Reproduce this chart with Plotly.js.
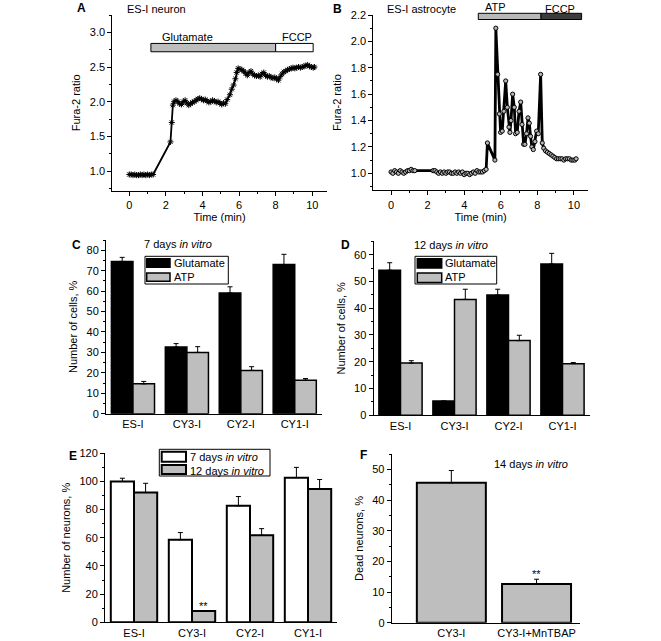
<!DOCTYPE html>
<html><head><meta charset="utf-8">
<script src="https://cdn.plot.ly/plotly-3.0.1.min.js"></script>
<style>body{margin:0;background:#fff}#chart{width:661px;height:641px}</style>
</head><body><div id="chart"></div>
<script>
// ---------- DATA ----------
const timeA = [0,0.1,0.2,0.3,0.4,0.5,0.6,0.7,0.8,0.9,1.0,1.1,1.2,1.3,
  2.25,2.32,2.38,2.45,2.55,2.65,2.75,2.85,2.95,3.05,3.15,3.25,3.35,3.45,3.55,3.65,3.75,3.85,3.95,
  4.05,4.15,4.25,4.35,4.45,4.55,4.65,4.75,4.85,4.95,5.05,5.15,5.25,5.35,5.5,5.6,5.7,5.8,5.87,5.95,
  6.05,6.15,6.25,6.35,6.45,6.55,6.65,6.75,6.85,6.95,7.05,7.15,7.25,7.35,7.45,7.55,7.65,7.75,7.85,7.95,
  8.05,8.15,8.25,8.35,8.45,8.55,8.65,8.75,8.85,8.95,9.05,9.15,9.25,9.35,9.45,9.55,9.65,9.75,9.85,9.95,10.05,10.12];
const ratioA = [0.95,0.95,0.94,0.95,0.94,0.94,0.95,0.94,0.95,0.94,0.95,0.94,0.95,0.95,
  1.42,1.70,1.95,2.00,2.02,2.00,1.97,1.96,2.00,2.02,1.98,1.95,1.97,1.99,2.00,2.02,2.04,2.05,2.04,
  2.02,2.03,2.01,1.99,2.00,2.02,2.01,1.99,2.00,1.98,1.96,1.98,1.97,2.03,2.10,2.18,2.24,2.33,2.42,2.48,
  2.47,2.46,2.44,2.41,2.38,2.42,2.44,2.40,2.38,2.37,2.38,2.36,2.40,2.42,2.38,2.36,2.37,2.35,2.34,2.35,
  2.33,2.31,2.36,2.40,2.43,2.44,2.46,2.47,2.48,2.49,2.48,2.49,2.50,2.49,2.50,2.51,2.52,2.53,2.51,2.50,2.49,2.50];
const timeB = [0,0.1,0.2,0.3,0.4,0.5,0.6,0.7,0.8,0.9,1.0,1.1,1.2,1.3,
  2.3,2.4,2.5,2.6,2.7,2.8,2.9,3.0,3.1,3.2,3.3,3.4,3.5,3.6,3.7,3.8,3.9,4.0,4.1,4.2,4.3,4.4,4.5,4.6,4.7,4.8,4.9,5.0,5.1,5.2,
  5.27,5.68,5.73,5.83,5.92,5.99,6.08,6.17,6.27,6.36,6.45,6.5,6.56,6.65,6.74,6.81,6.9,7.0,7.09,7.16,
  7.25,7.32,7.41,7.49,7.56,7.63,7.7,7.78,7.87,7.96,8.05,8.18,8.27,8.35,8.45,8.55,8.65,8.75,8.85,8.95,
  9.05,9.15,9.25,9.35,9.45,9.55,9.65,9.75,9.85,9.95,10.05,10.12];
const ratioB = [1.01,1.0,1.02,1.01,1.0,1.02,1.01,1.0,1.01,1.02,1.02,1.03,1.02,1.02,
  1.02,1.02,1.01,1.0,1.01,1.0,1.01,1.0,1.01,1.01,1.0,1.0,1.01,1.0,1.01,1.0,1.01,0.99,1.0,1.0,0.99,1.0,1.01,1.0,1.02,1.01,1.01,1.01,1.02,1.03,
  1.23,1.1,2.1,1.75,1.45,1.31,1.32,1.47,1.7,1.5,1.35,1.31,1.4,1.6,1.5,1.3,1.31,1.47,1.54,1.37,
  1.22,1.22,1.3,1.42,1.38,1.28,1.2,1.18,1.24,1.32,1.3,1.75,1.23,1.19,1.17,1.16,1.15,1.14,1.13,1.12,
  1.11,1.11,1.11,1.11,1.1,1.11,1.11,1.11,1.1,1.1,1.1,1.11];
const gluPeriodA = [1.18, 8.0];
const fccpPeriodA = [8.0, 10.05];
const atpPeriodB = [4.77, 8.2];
const fccpPeriodB = [8.2, 10.42];

const cellLines = ['ES-I','CY3-I','CY2-I','CY1-I'];
const glu7 = [74.5,32.6,59.1,73.0];   const glu7Err = [2.0,1.7,3.0,5.0];
const atp7 = [14.6,30.0,21.2,16.4];   const atp7Err = [1.2,2.8,1.8,0.8];
const glu12 = [54.2,5.3,44.9,56.5];   const glu12Err = [2.8,0,2.2,4.0];
const atp12 = [19.5,43.3,27.9,19.3];  const atp12Err = [0.9,3.8,2.0,0.4];
const neur7 = [100,58.7,82.7,102.7];  const neur7Err = [2.3,5.0,6.6,7.3];
const neur12 = [92.1,8.1,61.8,94.6];  const neur12Err = [6.6,0,4.7,6.8];
const deadCats = ['CY3-I','CY3-I+MnTBAP'];
const dead = [45.7,12.6];             const deadErr = [4.0,1.6];

// ---------- STYLE / LAYOUT ----------
const W = 661, H = 641;
const FONT = 'Liberation Sans, Arial, Helvetica, sans-serif';
const GRAY = '#bebebe';
const X = p => p / W, Y = p => 1 - p / H;
const zeros = a => a.map(() => 0);
const err = (a) => ({type:'data', array:a, arrayminus:zeros(a), symmetric:false, color:'#000', thickness:1, width:2.5});
const barLine = {color:'#000', width:1.5};

const traces = [
  {x: timeA, y: ratioA, xaxis:'x', yaxis:'y', type:'scatter', mode:'lines+markers',
   line:{color:'#000', width:1.8}, marker:{symbol:'asterisk-open', size:5, color:'#000', line:{color:'#000', width:1}}, showlegend:false},
  {x: timeB, y: ratioB, xaxis:'x2', yaxis:'y2', type:'scatter', mode:'lines+markers',
   line:{color:'#000', width:2.8}, marker:{symbol:'circle', size:4.2, color:'#b5b5b5', line:{color:'#000', width:1}}, showlegend:false},
  {x: cellLines, y: glu7, xaxis:'x3', yaxis:'y3', type:'bar', marker:{color:'#000', line:barLine}, error_y:err(glu7Err), showlegend:false},
  {x: cellLines, y: atp7, xaxis:'x3', yaxis:'y3', type:'bar', marker:{color:GRAY, line:barLine}, error_y:err(atp7Err), showlegend:false},
  {x: cellLines, y: glu12, xaxis:'x4', yaxis:'y4', type:'bar', marker:{color:'#000', line:barLine}, error_y:err(glu12Err), showlegend:false},
  {x: cellLines, y: atp12, xaxis:'x4', yaxis:'y4', type:'bar', marker:{color:GRAY, line:barLine}, error_y:err(atp12Err), showlegend:false},
  {x: cellLines, y: neur7, xaxis:'x5', yaxis:'y5', type:'bar', marker:{color:'#fff', line:{color:'#000', width:2}}, error_y:err(neur7Err), showlegend:false},
  {x: cellLines, y: neur12, xaxis:'x5', yaxis:'y5', type:'bar', marker:{color:GRAY, line:{color:'#000', width:2}}, error_y:err(neur12Err), showlegend:false},
  {x: deadCats, y: dead, xaxis:'x6', yaxis:'y6', type:'bar', width:0.81, marker:{color:GRAY, line:{color:'#000', width:2}}, error_y:err(deadErr), showlegend:false}
];

const tickFont = {family:FONT, size:11, color:'#000'};
const baseAx = {showline:true, linecolor:'#000', linewidth:1, ticks:'outside', ticklen:4, tickwidth:1, tickcolor:'#000',
  showgrid:false, zeroline:false, tickfont:tickFont, automargin:false};
const titleF = (t, s) => ({text:t, font:{family:FONT, size:11, color:'#000'}, standoff:s});

const layout = {
  width:W, height:H, margin:{l:0, r:0, t:0, b:0}, paper_bgcolor:'#fff', plot_bgcolor:'rgba(0,0,0,0)',
  showlegend:false, barmode:'group', bargap:0.2, bargroupgap:0,
  font:{family:FONT, size:11, color:'#000'},
  xaxis: Object.assign({}, baseAx, {domain:[X(112.3), X(326.7)], range:[-0.93, 10.79], anchor:'y', dtick:2, tick0:0,
    minor:{dtick:1, ticklen:2, ticks:'outside', tickcolor:'#000'}, title:titleF('Time (min)', 3)}),
  yaxis: Object.assign({}, baseAx, {domain:[Y(190.7), Y(15)], range:[0.716, 3.25], anchor:'x', dtick:0.5, tick0:1, tickformat:'.1f',
    minor:{dtick:0.25, ticklen:2, ticks:'outside', tickcolor:'#000'}, title:titleF('Fura-2 ratio', 6)}),
  xaxis2: Object.assign({}, baseAx, {domain:[X(373.3), X(588)], range:[-0.97, 10.77], anchor:'y2', dtick:2, tick0:0,
    minor:{dtick:1, ticklen:2, ticks:'outside', tickcolor:'#000'}, title:titleF('Time (min)', 3)}),
  yaxis2: Object.assign({}, baseAx, {domain:[Y(190.3), Y(15)], range:[0.871, 2.2], anchor:'x2', dtick:0.2, tick0:1, tickformat:'.1f',
    minor:{dtick:0.1, ticklen:2, ticks:'outside', tickcolor:'#000'}, title:titleF('Fura-2 ratio', 6)}),
  xaxis3: Object.assign({}, baseAx, {domain:[X(106), X(321.7)], range:[-0.5, 3.5], anchor:'y3', ticks:''}),
  yaxis3: Object.assign({}, baseAx, {domain:[Y(413.7), Y(240)], range:[0, 85], anchor:'x3', dtick:10,
    minor:{dtick:5, ticklen:2, ticks:'outside', tickcolor:'#000'}, title:titleF('Number of cells, %', 6)}),
  xaxis4: Object.assign({}, baseAx, {domain:[X(373.5), X(589.5)], range:[-0.5, 3.5], anchor:'y4', ticks:''}),
  yaxis4: Object.assign({}, baseAx, {domain:[Y(415.3), Y(241.3)], range:[0, 65], anchor:'x4', dtick:10,
    minor:{dtick:5, ticklen:2, ticks:'outside', tickcolor:'#000'}, title:titleF('Number of cells, %', 6)}),
  xaxis5: Object.assign({}, baseAx, {domain:[X(105), X(337)], range:[-0.5, 3.5], anchor:'y5', ticks:''}),
  yaxis5: Object.assign({}, baseAx, {domain:[Y(622.3), Y(453.3)], range:[0, 120], anchor:'x5', dtick:20,
    minor:{dtick:10, ticklen:2, ticks:'outside', tickcolor:'#000'}, title:titleF('Number of neurons, %', 6)}),
  xaxis6: Object.assign({}, baseAx, {domain:[X(391.7), X(580)], range:[-0.7, 1.51], anchor:'y6', ticks:''}),
  yaxis6: Object.assign({}, baseAx, {domain:[Y(622.7), Y(454.3)], range:[0, 55], anchor:'x6', dtick:10,
    minor:{dtick:5, ticklen:2, ticks:'outside', tickcolor:'#000'}, title:titleF('Dead neurons, %', 6)}),
  shapes: [], annotations: []
};

const S = layout.shapes, A = layout.annotations;
// treatment bars
S.push({type:'rect', xref:'x', yref:'y', x0:gluPeriodA[0], x1:gluPeriodA[1], y0:2.72, y1:2.84, fillcolor:GRAY, line:{color:'#000', width:1}});
S.push({type:'rect', xref:'x', yref:'y', x0:fccpPeriodA[0], x1:fccpPeriodA[1], y0:2.72, y1:2.84, fillcolor:'#fff', line:{color:'#000', width:1}});
S.push({type:'rect', xref:'x2', yref:'paper', x0:atpPeriodB[0], x1:atpPeriodB[1], y0:Y(19.5), y1:Y(13.3), fillcolor:'#b8b8b8', line:{color:'#000', width:1}});
S.push({type:'rect', xref:'x2', yref:'paper', x0:fccpPeriodB[0], x1:fccpPeriodB[1], y0:Y(19.5), y1:Y(13.3), fillcolor:'#3c3c3c', line:{color:'#000', width:1}});

const txt = (t, px, py, opts) => Object.assign({text:t, xref:'paper', yref:'paper', x:X(px), y:Y(py), showarrow:false,
  xanchor:'left', yanchor:'middle', font:{family:FONT, size:11, color:'#000'}}, opts || {});
A.push(txt('Glutamate', 160, 37));
A.push(txt('FCCP', 280, 37));
A.push(txt('ATP', 483, 7.5));
A.push(txt('FCCP', 543, 8.5));
A.push(txt('ES-I neuron', 125, 8.5));
A.push(txt('ES-I astrocyte', 385, 8.5));
A.push(txt('7 days <i>in vitro</i>', 141.5, 243.5));
A.push(txt('12 days <i>in vitro</i>', 411.5, 245.5));
A.push(txt('14 days <i>in vitro</i>', 491.5, 463.5));
const bold = {font:{family:FONT, size:12, color:'#000', weight:'bold'}, xanchor:'center'};
A.push(txt('<b>A</b>', 81, 8, bold));
A.push(txt('<b>B</b>', 337, 9, bold));
A.push(txt('<b>C</b>', 76, 245, bold));
A.push(txt('<b>D</b>', 345, 245, bold));
A.push(txt('<b>E</b>', 73, 456, bold));
A.push(txt('<b>F</b>', 363, 455, bold));
// significance marks
A.push({text:'**', xref:'x5', yref:'y5', x:1.2, y:neur12[1], yanchor:'bottom', showarrow:false, yshift:-3, font:{family:FONT, size:11}});
A.push({text:'**', xref:'x6', yref:'y6', x:1, y:dead[1]+deadErr[1], yanchor:'bottom', showarrow:false, yshift:-3, font:{family:FONT, size:11}});

// custom legends
function legendBox(x0, x1, y0, y1, items) {
  S.push({type:'rect', xref:'paper', yref:'paper', x0:X(x0), x1:X(x1), y0:Y(y1), y1:Y(y0), fillcolor:'#fff', line:{color:'#000', width:1}});
  items.forEach(it => {
    S.push({type:'rect', xref:'paper', yref:'paper', x0:X(it.sx0), x1:X(it.sx1), y0:Y(it.sy1), y1:Y(it.sy0), fillcolor:it.fill, line:{color:'#000', width:it.lw || 1.5}});
    A.push(txt(it.text, it.tx, it.ty));
  });
}
legendBox(145, 228.3, 256.3, 284, [
  {sx0:146.7, sx1:170, sy0:258.7, sy1:267.3, fill:'#000', text:'Glutamate', tx:171.5, ty:263},
  {sx0:146.7, sx1:170, sy0:273, sy1:281.3, fill:GRAY, text:'ATP', tx:171.5, ty:277.3}]);
legendBox(415, 496.7, 256.3, 284, [
  {sx0:417.3, sx1:441.7, sy0:258.7, sy1:268, fill:'#000', text:'Glutamate', tx:443, ty:263},
  {sx0:417.3, sx1:441.7, sy0:273, sy1:282.5, fill:GRAY, text:'ATP', tx:443, ty:277.5}]);
legendBox(159.3, 270, 449.3, 476, [
  {sx0:161.7, sx1:186, sy0:451.7, sy1:461.7, fill:'#fff', lw:2, text:'7 days <i>in vitro</i>', tx:188, ty:457.3},
  {sx0:161.7, sx1:186, sy0:465, sy1:474, fill:GRAY, lw:2, text:'12 days <i>in vitro</i>', tx:188, ty:470.7}]);

Plotly.newPlot('chart', traces, layout, {staticPlot:true, displayModeBar:false});
</script></body></html>
